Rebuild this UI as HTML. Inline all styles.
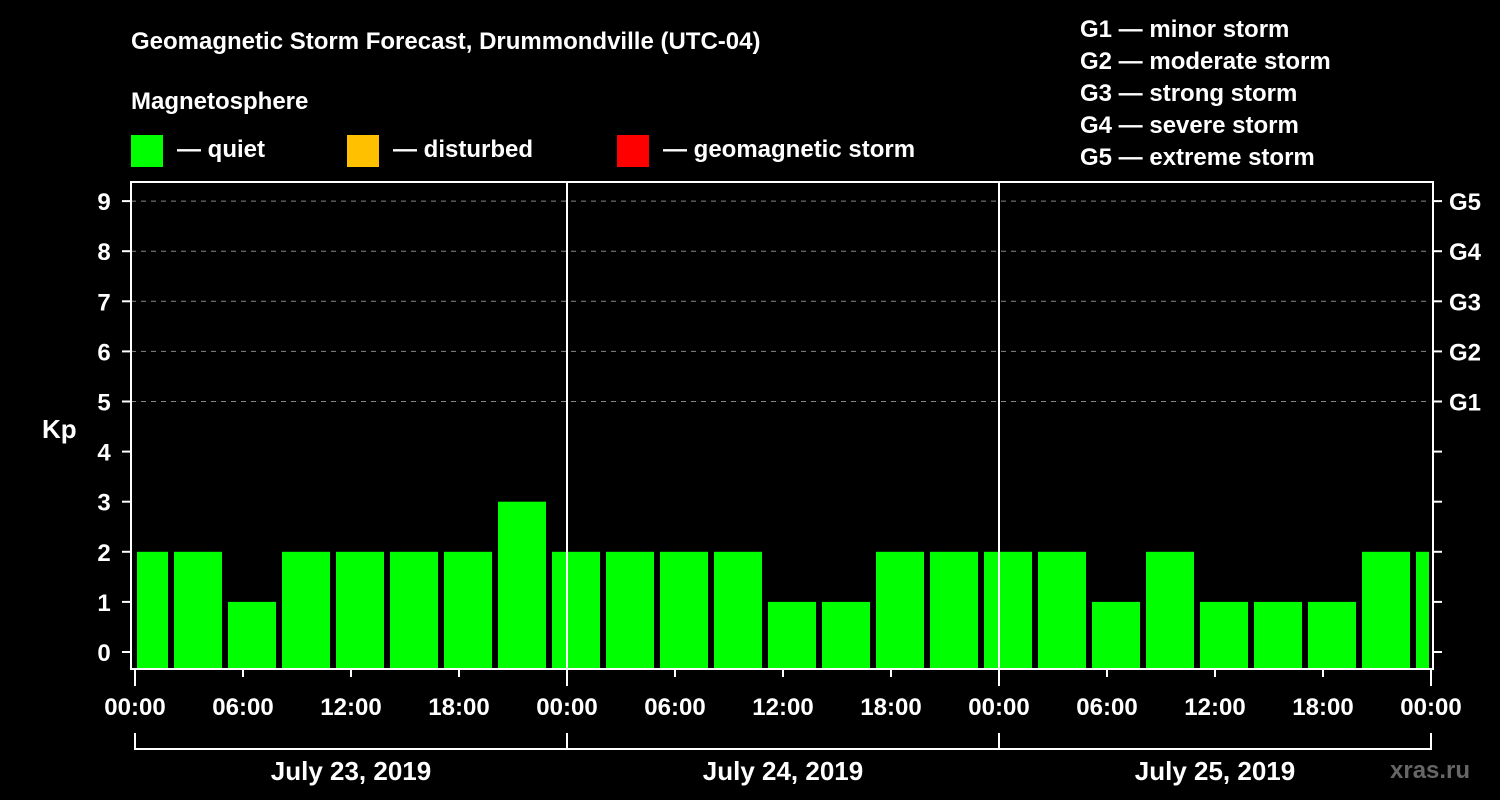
<!DOCTYPE html>
<html><head><meta charset="utf-8"><style>
html,body{margin:0;padding:0;background:#000;width:1500px;height:800px;overflow:hidden}
svg text{font-family:"Liberation Sans",Arial,sans-serif;font-weight:bold;fill:#fff}
</style></head><body>
<svg id="chart" width="1500" height="800" xmlns="http://www.w3.org/2000/svg">
<text x="131" y="49" font-size="24">Geomagnetic Storm Forecast, Drummondville (UTC-04)</text>
<text x="131" y="109" font-size="24">Magnetosphere</text>
<g><rect x="131" y="135" width="32" height="32" fill="#00ff00"/><text x="177" y="157" font-size="24">— quiet</text></g>
<g><rect x="347" y="135" width="32" height="32" fill="#ffc000"/><text x="393" y="157" font-size="24">— disturbed</text></g>
<g><rect x="617" y="135" width="32" height="32" fill="#ff0000"/><text x="663" y="157" font-size="24">— geomagnetic storm</text></g>
<g font-size="24">
<text x="1080" y="37">G1 — minor storm</text>
<text x="1080" y="69">G2 — moderate storm</text>
<text x="1080" y="101">G3 — strong storm</text>
<text x="1080" y="133">G4 — severe storm</text>
<text x="1080" y="165">G5 — extreme storm</text>
</g>
<text x="42" y="438" font-size="26">Kp</text>
<text x="1390" y="778" font-size="24" fill="#666" style="fill:#666">xras.ru</text>
<g id="plot"></g>
</svg>
<script>
const kpValues=[2,2,1,2,2,2,2,3,2,2,2,2,1,1,2,2,2,2,1,2,1,1,1,2,2];
const startHour=-1;
const yTicks=[0,1,2,3,4,5,6,7,8,9];
const gLabels=["G1","G2","G3","G4","G5"];
const gLevels=[5,6,7,8,9];
const xTickLabels=["00:00","06:00","12:00","18:00","00:00","06:00","12:00","18:00","00:00","06:00","12:00","18:00","00:00"];
const dayLabels=["July 23, 2019","July 24, 2019","July 25, 2019"];
const L=131,R=1431,T=182,B=669,X0=135,HW=18,Y0=652,KY=50.1;
const xs=h=>X0+h*HW, ys=k=>Y0-k*KY;
const g=document.getElementById('plot');
const NS='http://www.w3.org/2000/svg';
function mk(t,a,txt){const e=document.createElementNS(NS,t);for(const k in a)e.setAttribute(k,a[k]);if(txt!==undefined)e.textContent=txt;g.appendChild(e);return e;}
gLevels.forEach(k=>{const e=mk('line',{x1:L,x2:R,y1:ys(k),y2:ys(k),stroke:'#888','stroke-dasharray':'5,5','stroke-width':1});

});
kpValues.forEach((v,i)=>{let h0=startHour+3*i,h1=h0+3;let x0=xs(Math.max(h0,0))+(h0<0?2:3),x1=xs(Math.min(h1,72))-(h1>72?2:3);
const c=v>=5?'#ff0000':(v>=4?'#ffc000':'#00ff00');
const e=mk('rect',{x:x0,y:ys(v),width:x1-x0,height:B-ys(v),fill:c});

});
[1,2].forEach(d=>{const e=mk('line',{x1:xs(24*d),x2:xs(24*d),y1:T,y2:B,stroke:'#fff','stroke-width':2});

});
const fr=mk('rect',{x:L,y:T,width:R-L+2,height:B-T,fill:'none',stroke:'#fff','stroke-width':2});


yTicks.forEach(k=>{mk('line',{x1:122,x2:L,y1:ys(k),y2:ys(k),stroke:'#fff','stroke-width':2});
mk('line',{x1:R+2,x2:R+11,y1:ys(k),y2:ys(k),stroke:'#fff','stroke-width':2});
const t=mk('text',{x:104,y:ys(k)+9,'font-size':24,'text-anchor':'middle'},k);

});
gLabels.forEach((s,i)=>{const t=mk('text',{x:1449,y:ys(gLevels[i])+9,'font-size':24},s);

});
xTickLabels.forEach((s,i)=>{const x=xs(6*i);mk('line',{x1:x,x2:x,y1:B,y2:B+(i%4==0?17:8),stroke:'#fff','stroke-width':2});
const t=mk('text',{x:x,y:715,'font-size':24,'text-anchor':'middle'},s);

});
mk('line',{x1:xs(0),x2:xs(72),y1:749,y2:749,stroke:'#fff','stroke-width':2});
[0,1,2,3].forEach(d=>mk('line',{x1:xs(24*d),x2:xs(24*d),y1:733,y2:750,stroke:'#fff','stroke-width':2}));
dayLabels.forEach((s,i)=>{const t=mk('text',{x:xs(24*i+12),y:780,'font-size':26,'text-anchor':'middle'},s);

});
</script>
</body></html>
